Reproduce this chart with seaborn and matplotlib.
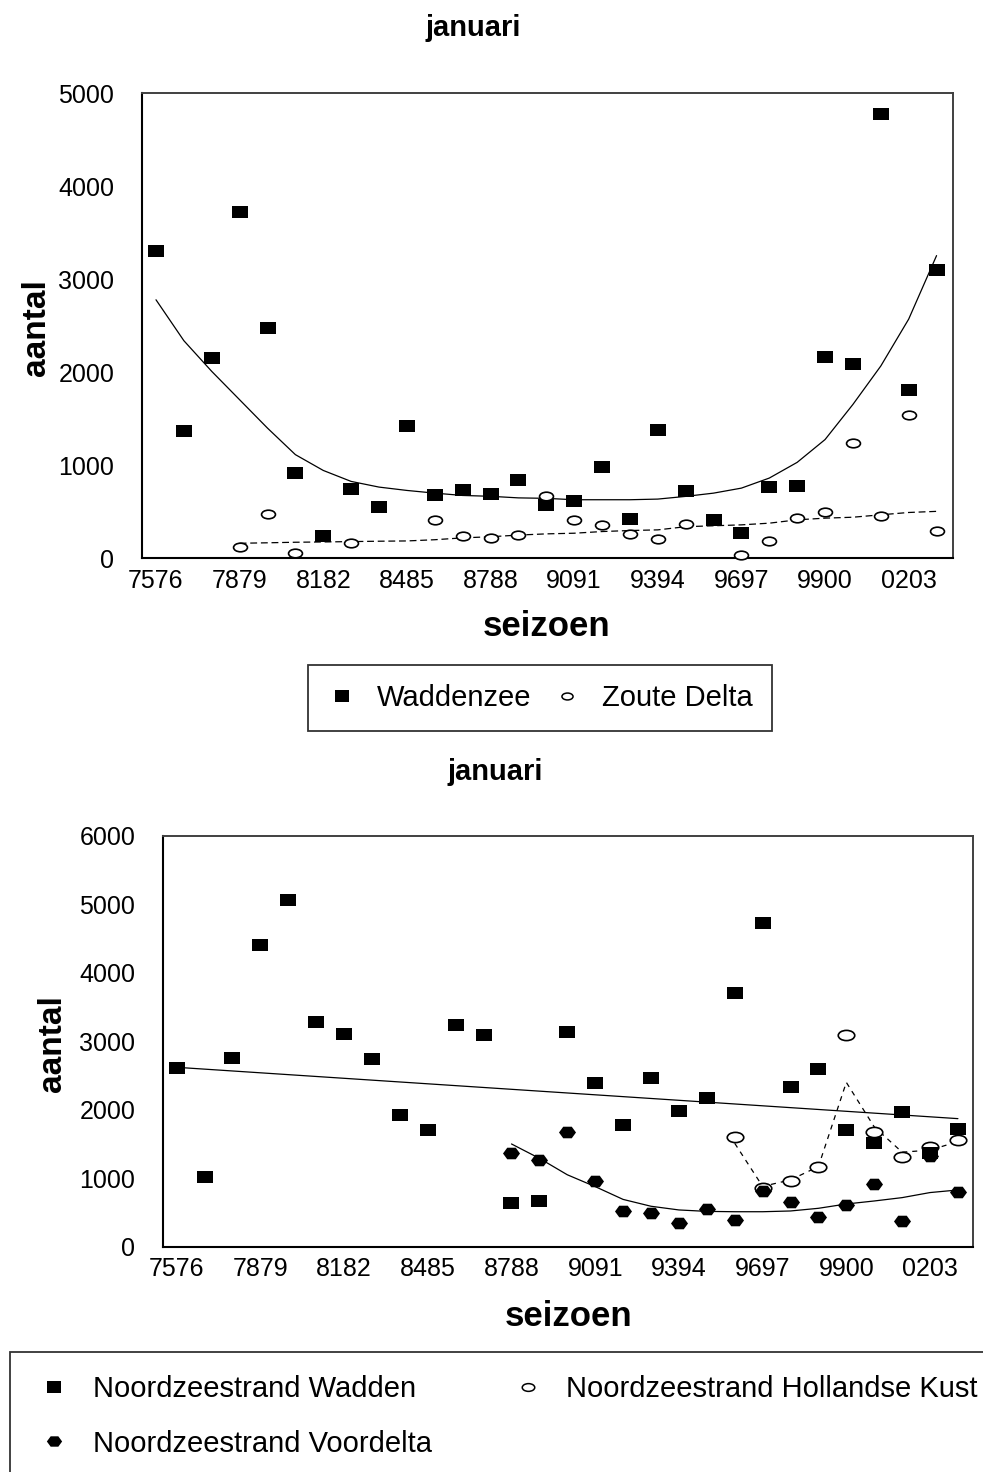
import numpy as np
import matplotlib
matplotlib.use("Agg")
import matplotlib.pyplot as plt
import seaborn as sns
from matplotlib.path import Path
from matplotlib.transforms import Affine2D
from matplotlib.lines import Line2D
from matplotlib.ticker import MultipleLocator

nan = np.nan

seasons = ["7576", "7677", "7778", "7879", "7980", "8081", "8182", "8283", "8384",
           "8485", "8586", "8687", "8788", "8889", "8990", "9091", "9192", "9293",
           "9394", "9495", "9596", "9697", "9798", "9899", "9900", "0001", "0102",
           "0203", "0304"]
idx = np.arange(len(seasons))

# top panel
waddenzee = [3300, 1370, 2150, 3720, 2480, 920, 240, 745, 550, 1420, 685, 740, 695,
             845, 575, 620, 980, 420, 1385, 720, 415, 275, 765, 780, 2165, 2085,
             4780, 1810, 3095]
zoute_delta = [nan, nan, nan, 120, 480, 60, nan, 160, nan, nan, 415, 240, 215, 250,
               665, 415, 360, 265, 205, 365, nan, 40, 185, 430, 495, 1240, 455,
               1540, 290]
waddenzee_trend = [2780, 2340, 2010, 1705, 1400, 1115, 945, 827, 766, 730, 701, 676,
                   667, 650, 645, 630, 630, 630, 637, 666, 701, 755, 863, 1032, 1277,
                   1655, 2068, 2572, 3255]
zoute_trend_x = list(range(3, 29))
zoute_trend = [162, 167, 173, 176, 180, 184, 187, 200, 220, 232, 250, 263, 270, 288,
               299, 306, 340, 350, 360, 378, 414, 432, 442, 468, 493, 505]

# bottom panel
nz_wadden = [2615, 1020, 2760, 4400, 5060, 3275, 3100, 2745, 1925, 1705, 3235, 3085,
             635, 665, 3130, 2395, 1780, 2470, 1985, 2165, 3700, 4725, 2325, 2600,
             1705, 1510, 1960, 1370, 1715]
nz_voordelta = [nan] * 12 + [1375, 1265, 1675, 965, 525, 495, 340, 550, 390, 815,
                             655, 440, 610, 915, 375, 1330, 805]
nz_holland = [nan] * 20 + [1600, 850, 965, 1170, 3085, 1680, 1315, 1460, 1560]
wadden_trend_x = [0, 28]
wadden_trend = [2620, 1870]
voordelta_trend_x = list(range(12, 29))
voordelta_trend = [1500, 1290, 1050, 877, 690, 590, 536, 515, 510, 510, 521, 560, 623,
                   667, 716, 790, 828]
holland_trend_x = list(range(20, 29))
holland_trend = [1510, 880, 975, 1170, 2400, 1750, 1380, 1410, 1535]

sns.set_style("white")
plt.rcParams["font.family"] = ["Liberation Sans", "DejaVu Sans"]
plt.rcParams["text.color"] = "black"
plt.rcParams["axes.labelcolor"] = "black"
plt.rcParams["xtick.labelcolor"] = "black"
plt.rcParams["ytick.labelcolor"] = "black"

rect = Path([(-1, -0.74), (1, -0.74), (1, 0.74), (-1, 0.74), (-1, -0.74)], closed=True)
rect_leg = Path([(-1, -0.85), (1, -0.85), (1, 0.85), (-1, 0.85), (-1, -0.85)], closed=True)
ell = Affine2D().scale(1, 0.62).transform_path(Path.unit_circle())
hexa = Path([(-1, 0), (-0.5, 0.68), (0.5, 0.68), (1, 0), (0.5, -0.68), (-0.5, -0.68),
             (-1, 0)], closed=True)

fig = plt.figure(figsize=(9.83, 14.72), dpi=100)
W, H = 983, 1472

ax1 = fig.add_axes([0.1448, 0.6207, 0.8244, 0.3159])
ax2 = fig.add_axes([0.1661, 0.1531, 0.8240, 0.2790])


def style_axes(ax, ymax, xlim):
    ax.set_xlim(*xlim)
    ax.set_ylim(0, ymax)
    ax.set_xticks(idx)
    ax.set_xticklabels([s if i % 3 == 0 else "" for i, s in enumerate(seasons)])
    ax.set_yticks(np.arange(0, ymax + 1, 1000))
    ax.yaxis.set_minor_locator(MultipleLocator(500))
    ax.tick_params(axis="x", direction="inout", length=11.5, width=1.4,
                   color="#8a8a8a", pad=2, labelsize=18, labelcolor="black")
    ax.tick_params(axis="y", which="major", direction="inout", length=16.5,
                   width=1.4, color="#8a8a8a", pad=12, labelsize=18,
                   labelcolor="black")
    ax.tick_params(axis="y", which="minor", direction="inout", length=11.5,
                   width=1.4, color="#8a8a8a")
    for side in ["left", "bottom"]:
        ax.spines[side].set_color("black")
        ax.spines[side].set_linewidth(1.5)
    for side in ["top", "right"]:
        ax.spines[side].set_color("#404040")
        ax.spines[side].set_linewidth(1.4)
    ax.set_xlabel("")
    ax.set_ylabel("")


# top chart
sns.lineplot(x=idx, y=waddenzee_trend, color="black", linewidth=0.9,
             errorbar=None, ax=ax1)
sns.lineplot(x=zoute_trend_x, y=zoute_trend, color="black", linewidth=0.9,
             linestyle=(0, (5.5, 3)), errorbar=None, ax=ax1)
sns.scatterplot(x=idx, y=waddenzee, marker=rect, s=133, color="black",
                linewidth=0, zorder=3, clip_on=False, ax=ax1)
sns.scatterplot(x=idx, y=zoute_delta, marker=ell, s=100, facecolor="white",
                edgecolor="black", linewidth=1.2, zorder=4, clip_on=False, ax=ax1)
style_axes(ax1, 5000, (-0.49, 28.58))

# bottom chart
sns.lineplot(x=wadden_trend_x, y=wadden_trend, color="black", linewidth=0.9,
             errorbar=None, ax=ax2)
sns.lineplot(x=voordelta_trend_x, y=voordelta_trend, color="black", linewidth=0.9,
             errorbar=None, ax=ax2)
sns.lineplot(x=holland_trend_x, y=holland_trend, color="black", linewidth=0.9,
             linestyle=(0, (4, 4)), errorbar=None, ax=ax2)
sns.scatterplot(x=idx, y=nz_holland, marker=ell, s=141, facecolor="white",
                edgecolor="black", linewidth=1.2, zorder=3, clip_on=False, ax=ax2)
sns.scatterplot(x=idx, y=nz_wadden, marker=rect, s=133, color="black",
                linewidth=0, zorder=4, clip_on=False, ax=ax2)
sns.scatterplot(x=idx, y=nz_voordelta, marker=hexa, s=150, color="black",
                linewidth=0, zorder=4, clip_on=False, ax=ax2)
style_axes(ax2, 6000, (-0.48, 28.55))

# titles and axis labels
fig.text(473.5 / W, 1 - 28.5 / H, "januari", ha="center", va="center",
         fontsize=21, fontweight="bold")
fig.text(547 / W, 1 - 627 / H, "seizoen", ha="center", va="center",
         fontsize=25, fontweight="bold")
fig.text(36 / W, 1 - 328 / H, "aantal", ha="center", va="center", rotation=90,
         fontsize=24, fontweight="bold")

fig.text(495.5 / W, 1 - 771.5 / H, "januari", ha="center", va="center",
         fontsize=21, fontweight="bold")
fig.text(569 / W, 1 - 1316 / H, "seizoen", ha="center", va="center",
         fontsize=25, fontweight="bold")
fig.text(53 / W, 1 - 1044 / H, "aantal", ha="center", va="center", rotation=90,
         fontsize=24, fontweight="bold")

# legends
h_wad = Line2D([], [], marker=rect_leg, markersize=10.5, color="black", ls="none", mew=0)
h_zd = Line2D([], [], marker=ell, markersize=8, mfc="white", mec="black", mew=1.1,
              ls="none")
leg1 = fig.legend([h_wad, h_zd], ["Waddenzee", "Zoute Delta"], ncol=2,
                  loc="upper left", bbox_to_anchor=(308 / W, 1 - 665 / H),
                  borderaxespad=0, fontsize=21, frameon=True, fancybox=False,
                  edgecolor="black", handlelength=1.0, handletextpad=0.7,
                  columnspacing=0.73, borderpad=0.65)
leg1.get_frame().set_linewidth(1.3)

h_nw = Line2D([], [], marker=rect_leg, markersize=10, color="black", ls="none", mew=0)
h_nv = Line2D([], [], marker=hexa, markersize=11, color="black", ls="none", mew=0)
h_nh = Line2D([], [], marker=ell, markersize=9, mfc="white", mec="black", mew=1.1,
              ls="none")
leg2 = fig.legend([h_nw, h_nv, h_nh],
                  ["Noordzeestrand Wadden", "Noordzeestrand Voordelta",
                   "Noordzeestrand Hollandse Kust"], ncol=2,
                  loc="upper left", bbox_to_anchor=(10 / W, 1 - 1352 / H),
                  borderaxespad=0, fontsize=21, frameon=True, fancybox=False,
                  edgecolor="black", handlelength=1.45, handletextpad=0.58,
                  columnspacing=2.57, borderpad=0.8, labelspacing=0.9)
leg2.get_frame().set_linewidth(1.3)

fig.savefig("out.png", dpi=100)
plt.close(fig)
